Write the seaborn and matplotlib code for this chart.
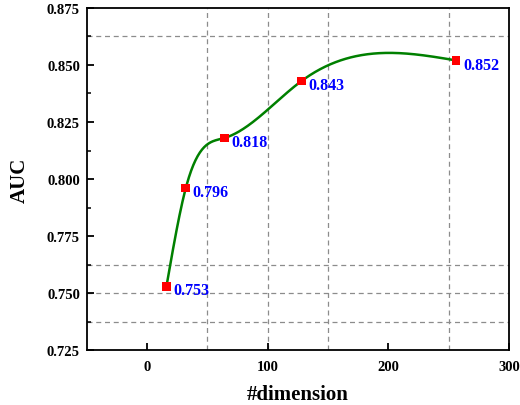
import numpy as np
import pandas as pd
import matplotlib
matplotlib.use("Agg")
import matplotlib.pyplot as plt
import seaborn as sns

# data
dims = [16, 32, 64, 128, 256]
auc = [0.753, 0.796, 0.818, 0.843, 0.852]
labels = ["0.753", "0.796", "0.818", "0.843", "0.852"]

grid_x = [50, 100, 150, 250]
grid_y = [0.7375, 0.75, 0.7625, 0.8625]

sns.set_theme(style="ticks")
plt.rcParams['font.family'] = ['Liberation Serif', 'DejaVu Serif']
plt.rcParams['font.weight'] = 'bold'
plt.rcParams['text.color'] = 'black'
plt.rcParams['axes.labelcolor'] = 'black'
plt.rcParams['xtick.color'] = 'black'
plt.rcParams['ytick.color'] = 'black'


def natural_spline(x, y, n=400):
    # natural cubic spline through the points, just for the smooth line
    x = np.asarray(x, float)
    y = np.asarray(y, float)
    k = len(x)
    h = np.diff(x)
    A = np.zeros((k, k))
    b = np.zeros(k)
    A[0, 0] = A[-1, -1] = 1
    for i in range(1, k - 1):
        A[i, i - 1] = h[i - 1]
        A[i, i] = 2 * (h[i - 1] + h[i])
        A[i, i + 1] = h[i]
        b[i] = 6 * ((y[i + 1] - y[i]) / h[i] - (y[i] - y[i - 1]) / h[i - 1])
    M = np.linalg.solve(A, b)
    xs = np.linspace(x[0], x[-1], n)
    idx = np.clip(np.searchsorted(x, xs) - 1, 0, k - 2)
    x0, x1 = x[idx], x[idx + 1]
    hh = x1 - x0
    t0, t1 = x1 - xs, xs - x0
    ys = (M[idx] * t0**3 + M[idx + 1] * t1**3) / (6 * hh) \
        + (y[idx] / hh - M[idx] * hh / 6) * t0 \
        + (y[idx + 1] / hh - M[idx + 1] * hh / 6) * t1
    return xs, ys


xs, ys = natural_spline(dims, auc)
curve = pd.DataFrame({"dim": xs, "auc": ys})
pts = pd.DataFrame({"dim": dims, "auc": auc})

fig = plt.figure(figsize=(5.2, 4.06), dpi=100)
ax = fig.add_axes([0.167, 0.135, 0.812, 0.843])

for gx in grid_x:
    ax.axvline(gx, color="#8c8c8c", ls=(0, (4, 3)), lw=0.9, zorder=0)
for gy in grid_y:
    ax.axhline(gy, color="#8c8c8c", ls=(0, (4, 3)), lw=0.9, zorder=0)

sns.lineplot(data=curve, x="dim", y="auc", color="#008000", lw=1.8, ax=ax,
             sort=False, zorder=2)
sns.scatterplot(data=pts, x="dim", y="auc", marker="s", color="#ff0000",
                s=38, edgecolor="none", ax=ax, zorder=3)

for d, a, lab in zip(dims, auc, labels):
    ax.annotate(lab, (d, a), xytext=(5, -3), textcoords="offset points",
                color="#0000ff", fontsize=11.5, fontweight="bold",
                va="center", ha="left")

ax.set_xlim(-50, 300)
ax.set_ylim(0.725, 0.875)
ax.set_xticks([0, 100, 200, 300])
ax.set_yticks(np.arange(0.725, 0.876, 0.025))
ax.set_yticks(np.arange(0.7375, 0.875, 0.025), minor=True)
ax.yaxis.set_major_formatter(matplotlib.ticker.FormatStrFormatter("%.3f"))
ax.tick_params(axis="both", which="major", direction="in", length=5,
               width=1.3, labelsize=10.5)
ax.tick_params(axis="y", which="major", pad=5)
ax.tick_params(axis="x", which="major", pad=7)
ax.tick_params(axis="y", which="minor", direction="in", length=3, width=1.1)
for lab in ax.get_xticklabels() + ax.get_yticklabels():
    lab.set_fontweight("bold")
for sp in ax.spines.values():
    sp.set_linewidth(1.3)
    sp.set_color("black")

ax.set_xlabel("#dimension", fontsize=15, fontweight="bold", labelpad=8)
ax.set_ylabel("AUC", fontsize=15, fontweight="bold", labelpad=12)

fig.savefig("out.png", dpi=100)
